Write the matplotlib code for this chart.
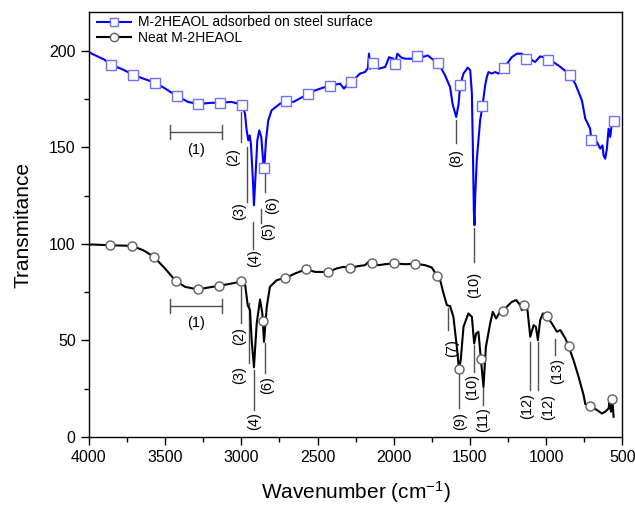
import matplotlib
matplotlib.use("Agg")
import matplotlib.pyplot as plt
from matplotlib.lines import Line2D
from matplotlib.ticker import MultipleLocator

plt.rcParams['font.family'] = ['Liberation Sans', 'DejaVu Sans']
plt.rcParams['mathtext.fontset'] = 'custom'
plt.rcParams['mathtext.rm'] = 'Liberation Sans'
plt.rcParams['mathtext.it'] = 'Liberation Sans'

# ---- data: adsorbed on steel surface (blue) ----
blue_wn = [4000, 3982, 3900, 3856, 3780, 3709, 3640, 3567, 3500, 3424, 3348, 3282, 3210, 3138,
           3063, 3015, 2994, 2976, 2965, 2954, 2945, 2937, 2925, 2917, 2906, 2895, 2882, 2869,
           2856, 2849, 2838, 2823, 2801, 2746, 2707, 2659, 2600, 2564, 2516, 2460, 2420, 2380,
           2352, 2326, 2300, 2278, 2250, 2221, 2188, 2170, 2162, 2155, 2133, 2100, 2056, 2030,
           2002, 1991, 1976, 1950, 1925, 1882, 1846, 1800, 1776, 1750, 1717, 1707, 1663, 1630,
           1614, 1590, 1575, 1564, 1542, 1514, 1498, 1487, 1481, 1474, 1470, 1465, 1455, 1444,
           1433, 1418, 1400, 1389, 1378, 1356, 1334, 1312, 1290, 1273, 1250, 1225, 1192, 1159,
           1133, 1100, 1072, 1039, 1010, 989, 950, 919, 880, 846, 809, 765, 743, 711, 704, 680,
           667, 645, 630, 623, 612, 601, 590, 579, 568, 557]
blue_T = [199.5, 198.5, 195.5, 192.8, 190.4, 187.6, 185.5, 183.5, 180.5, 176.6, 173.5, 172.4, 173.0, 173.2,
          173.5, 172.5, 171.9, 167.5, 158.8, 153.6, 156.2, 151.9, 134.7, 120.0, 136.4, 153.6, 158.8, 155.4,
          142.4, 139.5, 153.6, 164.0, 169.2, 172.6, 174.0, 173.5, 176.0, 177.4, 179.5, 181.0, 181.6, 182.5,
          183.0, 180.4, 183.0, 183.8, 186.0, 188.2, 189.0, 191.0, 198.5, 190.7, 193.6, 190.7, 191.6, 196.7,
          195.9, 193.3, 198.5, 196.5, 195.9, 195.9, 197.1, 197.0, 197.6, 195.9, 194.2, 193.6, 187.3, 181.2,
          172.6, 165.7, 172.0, 182.1, 188.2, 191.3, 190.0, 177.8, 152.0, 117.0, 109.7, 125.0, 143.3, 153.6,
          164.0, 171.2, 182.0, 186.4, 189.0, 188.2, 189.0, 188.2, 190.0, 191.3, 194.0, 196.7, 198.5, 198.5,
          195.9, 195.5, 194.2, 197.1, 196.5, 195.4, 194.0, 192.4, 190.0, 187.6, 183.0, 174.3, 164.9, 159.7, 154.0, 153.5,
          152.8, 149.4, 151.0, 145.9, 144.1, 149.4, 159.7, 155.4, 163.1, 163.5]
blue_mk_wn = [3856, 3709, 3567, 3424, 3282, 3138, 2994, 2849, 2707, 2564, 2420, 2278,
              2133, 1991, 1846, 1707, 1564, 1418, 1273, 1133, 989, 846, 704, 557]
blue_mk_T = [192.8, 187.6, 183.5, 176.6, 172.4, 173.2, 171.9, 139.5, 174.0, 177.4, 181.6, 183.8,
             193.6, 193.3, 197.1, 193.6, 182.1, 171.2, 191.3, 195.9, 195.4, 187.6, 154.0, 163.5]

# ---- data: neat (black) ----
black_wn = [4000, 3982, 3862, 3716, 3643, 3573, 3501, 3431, 3370, 3286, 3210, 3144, 3063, 3015,
            2991, 2976, 2958, 2943, 2932, 2917, 2899, 2877, 2862, 2851, 2845, 2833, 2812, 2768,
            2716, 2670, 2647, 2575, 2516, 2429, 2374, 2330, 2286, 2232, 2188, 2166, 2160, 2144,
            2100, 2056, 2000, 1925, 1857, 1794, 1750, 1715, 1695, 1684, 1673, 1651, 1630, 1608,
            1586, 1571, 1560, 1542, 1510, 1487, 1472, 1459, 1444, 1428, 1411, 1395, 1367, 1350,
            1328, 1302, 1282, 1247, 1225, 1196, 1170, 1159, 1142, 1122, 1104, 1082, 1067, 1054,
            1039, 1021, 997, 962, 929, 907, 874, 853, 820, 787, 754, 743, 710, 667, 634, 612,
            590, 584, 574, 566, 557]
black_T = [99.5, 99.7, 99.3, 99.0, 96.7, 93.3, 87.3, 80.9, 77.8, 76.4, 77.5, 78.3, 79.5, 80.3,
           81.6, 79.5, 68.3, 65.7, 50.2, 36.1, 58.8, 71.2, 64.0, 49.3, 55.0, 67.4, 77.8, 81.2,
           82.4, 83.8, 84.7, 86.9, 85.5, 85.5, 87.3, 88.1, 87.6, 88.5, 89.0, 90.7, 88.5, 90.2,
           89.0, 89.5, 89.9, 89.5, 89.7, 89.0, 87.8, 83.4, 81.2, 77.8, 74.3, 68.3, 67.8, 62.2,
           46.7, 35.0, 40.0, 57.1, 64.0, 62.2, 48.5, 53.6, 54.5, 40.4, 26.0, 46.7, 58.8, 64.8,
           61.4, 64.8, 65.5, 68.3, 70.0, 70.9, 68.3, 65.7, 68.4, 65.7, 51.9, 57.9, 57.1, 50.2,
           60.5, 64.0, 62.8, 58.8, 54.5, 55.4, 51.1, 47.1, 39.8, 31.2, 21.7, 17.1, 16.0, 14.0, 12.2, 13.1,
           14.8, 17.7, 13.1, 19.8, 10.5]
black_mk_wn = [3862, 3716, 3573, 3431, 3286, 3144, 3002, 2859, 2713, 2573, 2429, 2286,
               2144, 2000, 1857, 1715, 1571, 1428, 1282, 1142, 997, 853, 710, 566]
black_mk_T = [99.3, 99.0, 93.3, 80.9, 76.4, 78.3, 80.6, 59.9, 82.6, 87.1, 85.5, 87.6,
              90.2, 89.9, 89.7, 83.4, 35.0, 40.4, 65.5, 68.4, 62.8, 47.1, 16.0, 19.8]

labels = ["M-2HEAOL adsorbed on steel surface", "Neat M-2HEAOL"]

# ---- annotations: (label, line x, line y top, line y bottom, text x, text y) ----
blue_ann = [("(2)", 3004, 168.4, 152.7, 3055, 144.9),
            ("(3)", 2965, 150.0, 121.7, 3013, 116.9),
            ("(4)", 2921, 111.4, 97.6, 2917, 92.5),
            ("(5)", 2873, 118.0, 111.0, 2823, 106.8),
            ("(6)", 2844, 137.3, 127.0, 2800, 120.0),
            ("(8)", 1590, 164.0, 152.0, 1590, 144.6),
            ("(10)", 1470, 108.0, 90.5, 1470, 78.6)]
black_ann = [("(2)", 3004, 77.7, 58.8, 3013, 52.5),
             ("(3)", 2948, 69.3, 38.1, 3013, 32.1),
             ("(4)", 2917, 34.7, 14.0, 2917, 8.3),
             ("(6)", 2844, 48.5, 33.0, 2829, 26.9),
             ("(7)", 1645, 66.6, 55.4, 1619, 46.0),
             ("(9)", 1569, 33.8, 14.8, 1564, 8.3),
             ("(10)", 1472, 47.6, 33.8, 1487, 26.0),
             ("(11)", 1411, 26.0, 16.6, 1411, 9.0),
             ("(12)", 1104, 49.3, 24.3, 1122, 16.3),
             ("(12)", 1054, 49.3, 24.3, 984, 15.5),
             ("(13)", 940, 51.0, 42.4, 929, 34.1)]
brackets = [(3468, 3128, 157.8, 3297, 148.5), (3468, 3128, 68.0, 3297, 59.0)]

fig = plt.figure(figsize=(6.35, 5.07), dpi=100)
ax = fig.add_axes([0.140, 0.138, 0.840, 0.838])

blue = '#0000FF'
ax.plot(blue_wn, blue_T, color=blue, lw=1.5, zorder=3)
ax.plot(blue_mk_wn, blue_mk_T, ls='none', marker='s', ms=6.5, mfc='white', mec='#7070FF', mew=1.0, zorder=4)
ax.plot(black_wn, black_T, color='black', lw=1.5, zorder=3)
ax.plot(black_mk_wn, black_mk_T, ls='none', marker='o', ms=6.5, mfc='white', mec='#606060', mew=1.0, zorder=4)

ann_c = '#505050'
for lab, lx, y0, y1, tx, ty in blue_ann + black_ann:
    ax.plot([lx, lx], [y0, y1], color=ann_c, lw=1.0, zorder=2)
    ax.text(tx, ty, lab, rotation=90, ha='center', va='center', fontsize=10.5, color='black')
for x0, x1, y, tx, ty in brackets:
    ax.plot([x0, x1], [y, y], color=ann_c, lw=1.0)
    ax.plot([x0, x0], [y - 3.6, y + 3.6], color=ann_c, lw=1.0)
    ax.plot([x1, x1], [y - 3.6, y + 3.6], color=ann_c, lw=1.0)
    ax.text(tx, ty, "(1)", ha='center', va='center', fontsize=10.5)

ax.set_xlim(4000, 500)
ax.set_ylim(0, 220)
ax.xaxis.set_major_locator(MultipleLocator(500))
ax.xaxis.set_minor_locator(MultipleLocator(250))
ax.set_yticks([0, 50, 100, 150, 200])
ax.yaxis.set_minor_locator(MultipleLocator(25))
ax.tick_params(axis='both', which='major', direction='out', length=6, width=1, labelsize=11.5)
ax.tick_params(axis='both', which='minor', direction='out', length=3.5, width=1)
ax.tick_params(top=False, right=False, which='both')
for s in ax.spines.values():
    s.set_linewidth(1.0)

ax.set_xlabel(r'Wavenumber (cm$^{-1}$)', fontsize=15, labelpad=10)
ax.set_ylabel('Transmitance', fontsize=15, labelpad=12)

handles = [Line2D([], [], color=blue, lw=1.5, marker='s', ms=6, mfc='white', mec='#7070FF'),
           Line2D([], [], color='black', lw=1.5, marker='o', ms=6, mfc='white', mec='#606060')]
ax.legend(handles, labels, loc='upper left', bbox_to_anchor=(0.0, 1.012), frameon=False,
          fontsize=10, handlelength=2.4, handletextpad=0.5, labelspacing=0.12,
          borderaxespad=0.2, numpoints=1)

fig.savefig('out.png', dpi=100)
